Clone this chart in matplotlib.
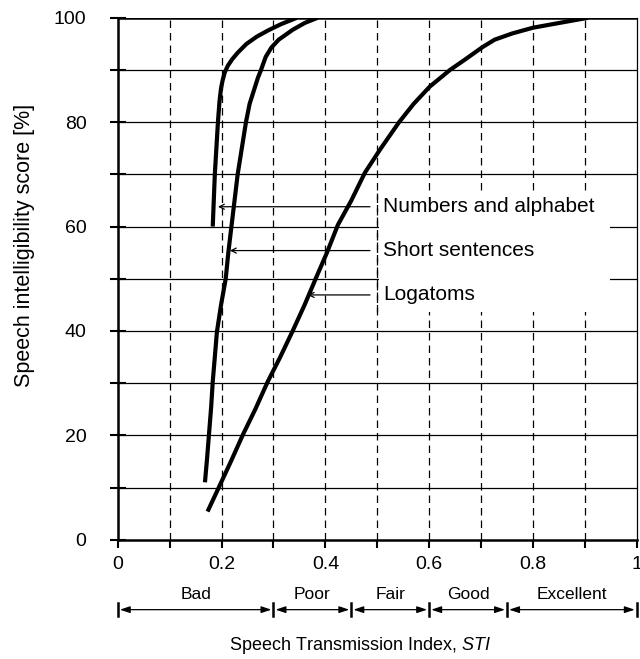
import matplotlib
matplotlib.use('Agg')
import matplotlib.pyplot as plt
from matplotlib.patches import Rectangle

plt.rcParams['font.family'] = ['Liberation Sans', 'DejaVu Sans']
plt.rcParams['mathtext.fontset'] = 'custom'
plt.rcParams['mathtext.it'] = 'Liberation Sans:italic'
plt.rcParams['mathtext.rm'] = 'Liberation Sans'

# Кривые разборчивости речи в зависимости от STI
na_x = [0.183, 0.185, 0.187, 0.190, 0.193, 0.196, 0.199, 0.202, 0.206, 0.212,
        0.220, 0.231, 0.248, 0.268, 0.290, 0.315, 0.345]
na_y = [60, 65, 70, 75, 80, 84, 86.5, 88, 89.5, 90.8,
        92, 93.3, 95, 96.4, 97.6, 98.8, 100]

ss_x = [0.168, 0.172, 0.176, 0.180, 0.183, 0.187, 0.191, 0.199, 0.208, 0.213,
        0.219, 0.225, 0.231, 0.239, 0.247, 0.254, 0.262, 0.270, 0.276, 0.285,
        0.296, 0.310, 0.337, 0.360, 0.385]
ss_y = [11, 15.5, 20.5, 25.5, 30.3, 35, 39.8, 45, 50, 55,
        60, 65, 70, 75, 80, 83.5, 86, 88.5, 90, 92.5,
        94.3, 95.8, 97.7, 99, 100]

lg_x = [0.173, 0.196, 0.218, 0.241, 0.265, 0.289, 0.313, 0.337, 0.360, 0.383,
        0.403, 0.424, 0.450, 0.476, 0.507, 0.542, 0.570, 0.601, 0.640, 0.669,
        0.703, 0.726, 0.760, 0.800, 0.850, 0.906]
lg_y = [5.4, 10.3, 15, 20.1, 25, 30.3, 35, 40, 45, 50.4,
        55, 60.3, 65, 70.3, 75, 80, 83.5, 86.8, 90, 92,
        94.4, 95.8, 97, 98.1, 99, 100]

# Подписи кривых: текст, уровень по оси Y, координата острия стрелки
curve_labels = ['Numbers and alphabet', 'Short sentences', 'Logatoms']
label_y = [63.8, 55.4, 46.9]
arrow_tip_x = [0.193, 0.216, 0.366]

# Шкала качества STI
categories = ['Bad', 'Poor', 'Fair', 'Good', 'Excellent']
cat_edges = [0.0, 0.3, 0.45, 0.6, 0.75, 1.0]

fig = plt.figure(figsize=(6.4, 6.59), dpi=100, facecolor='white')
ax = fig.add_axes([0.184, 0.181, 0.811, 0.792])

ax.set_xlim(0, 1)
ax.set_ylim(0, 100)

# Сетка: горизонтальные сплошные, вертикальные пунктирные
for yv in range(10, 100, 10):
    ax.axhline(yv, color='black', lw=0.9, zorder=1)
ax.axhline(100, color='black', lw=1.8, zorder=1)
for xv in [0.1, 0.2, 0.3, 0.4, 0.5, 0.6, 0.7, 0.8, 0.9]:
    ax.axvline(xv, color='black', lw=0.9, dashes=(6, 4), zorder=1)

# Белая подложка под подписями кривых
ax.add_patch(Rectangle((0.503, 43.7), 0.445, 22.8, facecolor='white',
                       edgecolor='none', zorder=2))
ax.axvline(0.5, ymin=0.437, ymax=0.665, color='black', lw=0.9, dashes=(6, 4), zorder=2.5)

# Кривые
for xs, ys in [(na_x, na_y), (ss_x, ss_y), (lg_x, lg_y)]:
    ax.plot(xs, ys, color='black', lw=3.0, solid_capstyle='butt',
            solid_joinstyle='round', zorder=4)

# Подписи со стрелками
for text, yv, tip in zip(curve_labels, label_y, arrow_tip_x):
    ax.annotate('', xy=(tip, yv), xytext=(0.486, yv),
                arrowprops=dict(arrowstyle='->', color='black', lw=0.9,
                                mutation_scale=9, shrinkA=0, shrinkB=0),
                zorder=5)
    ax.text(0.511, yv, text, fontsize=15, ha='left', va='center', zorder=5)

# Оси и деления
for side in ['left', 'bottom']:
    ax.spines[side].set_linewidth(1.8)
ax.spines['top'].set_visible(False)
ax.spines['right'].set_linewidth(0.9)

ax.set_xticks([i / 10 for i in range(11)])
ax.set_xticklabels(['0', '', '0.2', '', '0.4', '', '0.6', '', '0.8', '', '1'])
ax.set_yticks(range(0, 101, 10))
ax.set_yticklabels(['0', '', '20', '', '40', '', '60', '', '80', '', '100'])
ax.tick_params(axis='x', direction='out', length=6, width=1.5, pad=6, labelsize=14)
ax.tick_params(axis='y', direction='inout', length=11, width=1.5, pad=17, labelsize=14)

fig.text(0.038, 0.628, 'Speech intelligibility score [%]', fontsize=15.5,
         rotation=90, ha='center', va='center')

# Шкала качества под осью X
tr = ax.get_xaxis_transform()
arrow_y = -0.134
for name, x0, x1 in zip(categories, cat_edges[:-1], cat_edges[1:]):
    ax.annotate('', xy=(x1, arrow_y), xytext=(x0, arrow_y), xycoords=tr, textcoords=tr,
                arrowprops=dict(arrowstyle='<|-|>,head_length=0.6,head_width=0.2',
                                color='black', lw=0.9, mutation_scale=10,
                                shrinkA=1.5, shrinkB=1.5),
                annotation_clip=False)
    ax.text((x0 + x1) / 2, -0.105, name, transform=tr, fontsize=12.5,
            ha='center', va='center')
for xe in cat_edges:
    ax.plot([xe, xe], [arrow_y - 0.012, arrow_y + 0.012], transform=tr,
            color='black', lw=1.8, clip_on=False)

fig.text(229 / 640, 14 / 659, r'Speech Transmission Index, $\mathit{STI}$',
         fontsize=13, ha='left', va='center')

plt.savefig('out.png', dpi=100, facecolor='white')
